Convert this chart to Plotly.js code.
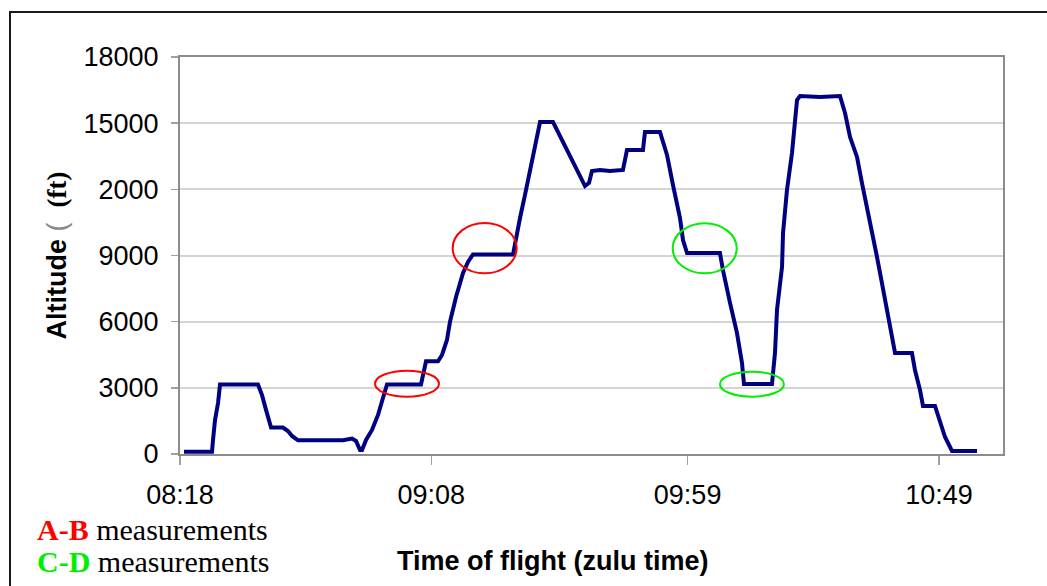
<!DOCTYPE html>
<html>
<head>
<meta charset="utf-8">
<script src="https://cdn.plot.ly/plotly-3.0.1.min.js"></script>
<style>
  html, body { margin: 0; padding: 0; background: #ffffff; overflow: hidden; }
  #chart { position: absolute; left: 0; top: 0; width: 1047px; height: 586px; }
  #frame { position: absolute; left: 9px; top: 11px; width: 3000px; height: 3000px;
           border-left: 2px solid #1a1a1a; border-top: 2px solid #1a1a1a; pointer-events: none; }
</style>
</head>
<body>
<div id="chart"></div>
<div id="frame"></div>
<script>
// ---- data (zulu time, altitude in ft) ----
const flightTimes = [
  '08:18:48','08:24:22','08:24:34','08:24:58','08:25:34','08:25:58','08:33:31','08:34:19','08:35:07','08:36:07',
  '08:38:29','08:39:29','08:40:17','08:41:29','08:50:26','08:52:13','08:53:01','08:53:49','08:54:13','08:55:01',
  '08:56:12','08:57:24','08:58:23','08:59:11','09:05:57','09:06:57','09:09:20','09:10:08','09:11:07','09:11:43',
  '09:12:55','09:14:19','09:15:18','09:16:18','09:24:16','09:25:03','09:25:39','09:26:38','09:27:38','09:28:38',
  '09:29:38','09:32:13','09:35:24','09:38:35','09:39:23','09:39:58','09:41:34','09:43:34','09:46:08','09:46:56',
  '09:50:07','09:50:31','09:53:30','09:54:54','09:56:05','09:57:29','09:58:05','09:58:53','10:05:26','10:06:02',
  '10:07:26','10:08:49','10:09:49','10:10:13','10:15:47','10:16:23','10:16:47','10:17:47','10:17:59','10:18:46',
  '10:19:46','10:20:22','10:20:46','10:21:22','10:25:20','10:29:19','10:30:19','10:31:19','10:32:42','10:33:41',
  '10:34:41','10:35:41','10:36:41','10:37:40','10:38:40','10:39:40','10:40:16','10:43:38','10:44:14','10:45:14',
  '10:45:50','10:48:13','10:49:13','10:50:13','10:51:36','10:56:35'
];
const altitudeFt = [
  100, 100, 630, 1540, 2310, 3150, 3150, 2670, 2000, 1200,
  1200, 1040, 820, 620, 620, 700, 590, 180, 180, 635,
  1090, 1770, 2540, 3150, 3150, 4200, 4200, 4490, 5170, 5990,
  7120, 8210, 8710, 9050, 9050, 10070, 10700, 11740, 12880, 14010,
  15050, 15050, 13600, 12150, 12290, 12830, 12880, 12830, 12880, 13780,
  13780, 14600, 14600, 13560, 12200, 10700, 9700, 9110, 9110, 8340,
  6850, 5490, 4130, 3170, 3170, 4580, 6530, 8480, 10020, 11970,
  13650, 15010, 16050, 16230, 16190, 16230, 15460, 14370, 13470, 12290,
  11200, 10160, 8930, 7750, 6530, 5490, 4580, 4580, 3810, 2900,
  2180, 2180, 1410, 770, 140, 140
];

// axis ticks
const xTickTimes  = ['08:18', '09:08', '09:59', '10:49'];
const yTickValues = [0, 3000, 6000, 9000, 12000, 15000, 18000];
const yTickLabels = ['0', '3000', '6000', '9000', '2000', '15000', '18000'];
const xRangeTimes = ['08:18:00', '11:01:45'];

// highlighted measurement segments (time span, altitude span)
const abStart = ['08:56:48', '09:12:15'];
const abEnd   = ['09:09:32', '09:24:59'];
const abLow   = [2598, 8193];
const abHigh  = [3777, 10474];
const cdStart = ['09:56:02', '10:05:26'];
const cdEnd   = ['10:08:46', '10:18:10'];
const cdLow   = [8193, 2598];
const cdHigh  = [10460, 3732];

// ---- build ----
const day = '2000-01-01 ';
const toDate = t => day + (t.length === 5 ? t + ':00' : t);

const trace = {
  type: 'scatter',
  mode: 'lines',
  x: flightTimes.map(toDate),
  y: altitudeFt,
  line: { color: '#000080', width: 4 },
  hoverinfo: 'x+y'
};

const shapes = [];
function addEllipses(starts, ends, lows, highs, color) {
  for (let i = 0; i < starts.length; i++) {
    shapes.push({
      type: 'circle', xref: 'x', yref: 'y',
      x0: toDate(starts[i]), x1: toDate(ends[i]), y0: lows[i], y1: highs[i],
      line: { color: color, width: 2 }
    });
  }
}
addEllipses(abStart, abEnd, abLow, abHigh, '#ff0000');
addEllipses(cdStart, cdEnd, cdLow, cdHigh, '#00ee00');

const axisFont = { family: 'Arial, "Liberation Sans", sans-serif', size: 27, color: '#000000' };

const layout = {
  width: 1047, height: 586,
  margin: { l: 180, r: 44, t: 57, b: 132 },
  paper_bgcolor: '#ffffff', plot_bgcolor: '#ffffff',
  showlegend: false,
  xaxis: {
    type: 'date',
    range: xRangeTimes.map(toDate),
    tickmode: 'array',
    tickvals: xTickTimes.map(toDate),
    ticktext: xTickTimes,
    ticks: 'outside', ticklen: 9, tickwidth: 1.5, tickcolor: '#a0a0a0',
    ticklabelstandoff: 7,
    tickfont: axisFont,
    showgrid: false, zeroline: false,
    showline: true, linecolor: '#8c8c8c', linewidth: 2, mirror: true
  },
  yaxis: {
    range: [0, 18000],
    tickmode: 'array',
    tickvals: yTickValues,
    ticktext: yTickLabels,
    ticks: 'outside', ticklen: 7, tickwidth: 1.5, tickcolor: '#a0a0a0',
    ticklabelstandoff: 7,
    tickfont: axisFont,
    showgrid: true, gridcolor: '#d4d4d4', gridwidth: 2,
    zeroline: false,
    showline: true, linecolor: '#8c8c8c', linewidth: 2, mirror: true,
    title: {
      text: 'Altitude <span style="font-weight:normal;color:#888888">(</span>  <span style="font-family:\'Liberation Serif\', \'Times New Roman\', serif">(ft)</span>',
      font: { family: 'Arial, "Liberation Sans", sans-serif', size: 27, color: '#000000', weight: 'bold' },
      standoff: 9
    }
  },
  shapes: shapes,
  annotations: [
    {
      text: 'Time of flight (zulu time)',
      xref: 'paper', yref: 'paper', x: 0.4532, y: -0.2695,
      xanchor: 'center', yanchor: 'middle', showarrow: false,
      font: { family: 'Arial, "Liberation Sans", sans-serif', size: 27, color: '#000000', weight: 'bold' }
    },
    {
      text: '<b><span style="color:#ff0000">A-B</span></b> measurements',
      xref: 'paper', yref: 'paper', x: -0.1762, y: -0.1890,
      xanchor: 'left', yanchor: 'middle', showarrow: false,
      font: { family: '"Liberation Serif", "Times New Roman", serif', size: 30, color: '#000000' }
    },
    {
      text: '<b><span style="color:#00ee00">C-D</span></b> measurements',
      xref: 'paper', yref: 'paper', x: -0.1762, y: -0.2720,
      xanchor: 'left', yanchor: 'middle', showarrow: false,
      font: { family: '"Liberation Serif", "Times New Roman", serif', size: 30, color: '#000000' }
    }
  ]
};

Plotly.newPlot('chart', [trace], layout, { staticPlot: true, displayModeBar: false });
</script>
</body>
</html>
